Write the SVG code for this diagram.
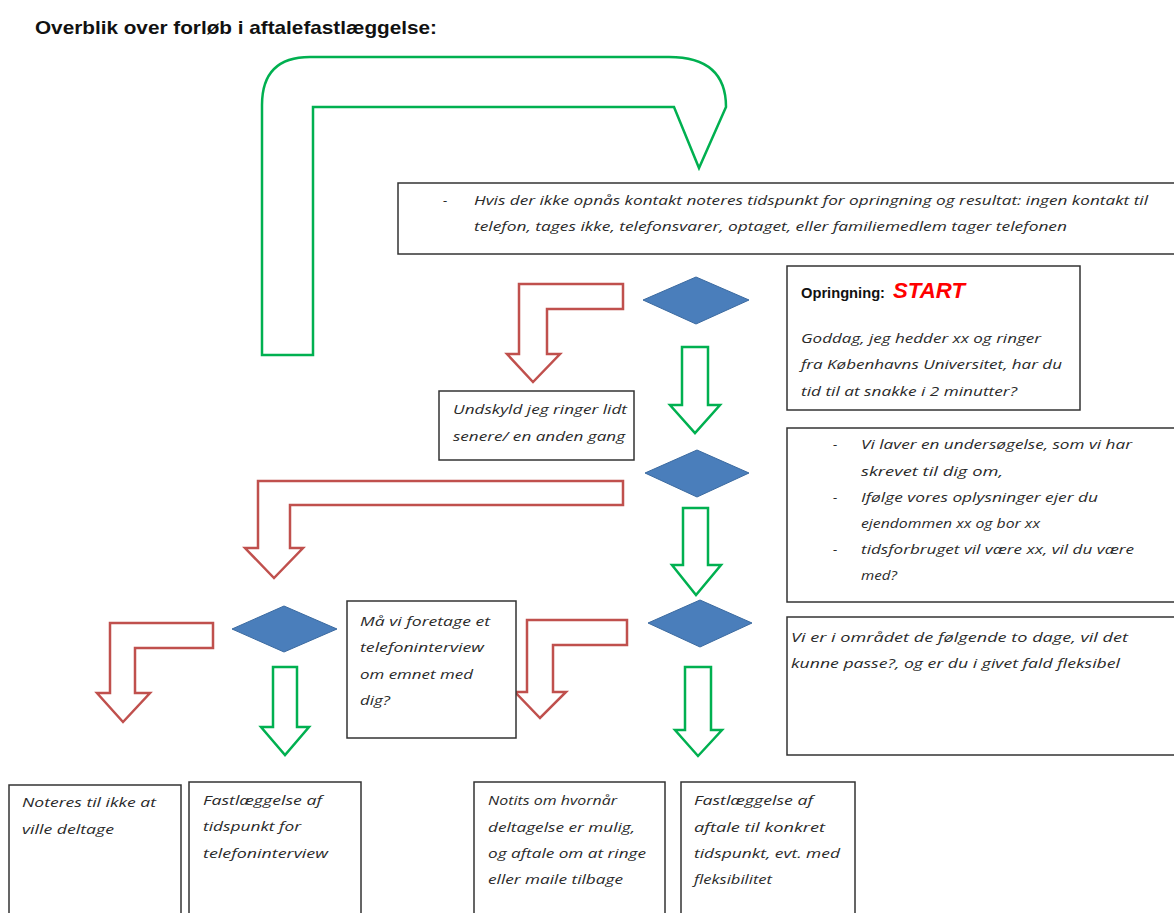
<svg xmlns="http://www.w3.org/2000/svg" width="1174" height="913" viewBox="0 0 1174 913">
<style>
.box{fill:#fff;stroke:#333;stroke-width:1.5}
.t{font-family:"Open Sans","Liberation Sans",sans-serif;font-style:italic;font-size:13.5px;fill:#2a2a2a}
.red{fill:#fff;stroke:#C0504D;stroke-width:2.5;stroke-linejoin:miter}
.grn{fill:#fff;stroke:#00B050;stroke-width:2.5;stroke-linejoin:miter}
.dia{fill:#4A7EBB;stroke:#3B6AA0;stroke-width:1}
</style>
<rect width="1174" height="913" fill="#fff"/>
<text x="35" y="34" font-family="'Liberation Sans',Arial,sans-serif" font-weight="bold" font-size="19" fill="#111" textLength="402" lengthAdjust="spacingAndGlyphs">Overblik over forløb i aftalefastlæggelse:</text>

<g id="connectors">
<path class="grn" d="M262,355 L262,105 Q262,57 310,57 L669,57 Q726,57 726,107 L699,168 L674,107 L313,107 L313,355 Z"/>
<path class="red" d="M623,284 L519,284 L519,354 L507,354 L533,382 L560,354 L547,354 L547,309 L623,309 Z"/>
<path class="grn" d="M682,347 L708,347 L708,405 L720,405 L695,433 L670,405 L682,405 Z"/>
<path class="red" d="M623,481 L258,481 L258,548 L245,548 L274,578 L303,548 L290,548 L290,505 L623,505 Z"/>
<path class="grn" d="M683,508 L708,508 L708,565 L721,565 L696,595 L672,565 L683,565 Z"/>
<path class="red" d="M213,623 L110,623 L110,693 L97,693 L123,722 L150,693 L135,693 L135,648 L213,648 Z"/>
<path class="grn" d="M273,667 L297,667 L297,727 L309,727 L285,755 L261,727 L273,727 Z"/>
<path class="red" d="M627,620 L527,620 L527,692 L515,692 L540,718 L566,692 L553,692 L553,645 L627,645 Z"/>
<path class="grn" d="M685,667 L711,667 L711,730 L722,730 L698,756 L675,730 L685,730 Z"/>
</g>

<g id="d1"><polygon class="dia" points="643,300 696,277 749,300 696,324"/></g>
<g id="d2"><polygon class="dia" points="645,473 697,450 749,473 697,497"/></g>
<g id="d3"><polygon class="dia" points="232,629 284,606 337,629 284,652"/></g>
<g id="d4"><polygon class="dia" points="648,623 700,600 752,623 700,647"/></g>

<g id="nokontakt">
<rect class="box" x="398" y="183" width="780" height="71"/>
<text class="t" x="443" y="205">-</text>
<text class="t" x="474" y="205" textLength="674" lengthAdjust="spacingAndGlyphs">Hvis der ikke opnås kontakt noteres tidspunkt for opringning og resultat: ingen kontakt til</text>
<text class="t" x="474" y="231" textLength="593" lengthAdjust="spacingAndGlyphs">telefon, tages ikke, telefonsvarer, optaget, eller familiemedlem tager telefonen</text>
</g>

<g id="start">
<rect class="box" x="787" y="266" width="293" height="144"/>
<text x="801" y="298" font-family="'Liberation Sans',Arial,sans-serif" font-weight="bold" font-size="14" fill="#111" textLength="84" lengthAdjust="spacingAndGlyphs">Opringning:</text>
<text x="893" y="298" font-family="'Liberation Sans',Arial,sans-serif" font-weight="bold" font-style="italic" font-size="22" fill="#FF0000" textLength="72" lengthAdjust="spacingAndGlyphs">START</text>
<text class="t" x="801" y="343" textLength="240" lengthAdjust="spacingAndGlyphs">Goddag, jeg hedder xx og ringer</text>
<text class="t" x="801" y="369" textLength="261" lengthAdjust="spacingAndGlyphs">fra Københavns Universitet, har du</text>
<text class="t" x="801" y="396" textLength="216" lengthAdjust="spacingAndGlyphs">tid til at snakke i 2 minutter?</text>
</g>

<g id="undskyld">
<rect class="box" x="439" y="391" width="195" height="69"/>
<text class="t" x="453" y="414" textLength="174" lengthAdjust="spacingAndGlyphs">Undskyld jeg ringer lidt</text>
<text class="t" x="453" y="441" textLength="172" lengthAdjust="spacingAndGlyphs">senere/ en anden gang</text>
</g>

<g id="undersoegelse">
<rect class="box" x="787" y="428" width="391" height="174"/>
<text class="t" x="833" y="449">-</text>
<text class="t" x="861" y="449" textLength="271" lengthAdjust="spacingAndGlyphs">Vi laver en undersøgelse, som vi har</text>
<text class="t" x="861" y="476" textLength="142" lengthAdjust="spacingAndGlyphs">skrevet til dig om,</text>
<text class="t" x="833" y="502">-</text>
<text class="t" x="861" y="502" textLength="237" lengthAdjust="spacingAndGlyphs">Ifølge vores oplysninger ejer du</text>
<text class="t" x="861" y="528" textLength="179" lengthAdjust="spacingAndGlyphs">ejendommen xx og bor xx</text>
<text class="t" x="833" y="554">-</text>
<text class="t" x="861" y="554" textLength="273" lengthAdjust="spacingAndGlyphs">tidsforbruget vil være xx, vil du være</text>
<text class="t" x="861" y="580" textLength="36" lengthAdjust="spacingAndGlyphs">med?</text>
</g>

<g id="telefoninterview">
<rect class="box" x="347" y="601" width="169" height="137"/>
<text class="t" x="360" y="626" textLength="130" lengthAdjust="spacingAndGlyphs">Må vi foretage et</text>
<text class="t" x="360" y="652" textLength="124" lengthAdjust="spacingAndGlyphs">telefoninterview</text>
<text class="t" x="360" y="679" textLength="113" lengthAdjust="spacingAndGlyphs">om emnet med</text>
<text class="t" x="360" y="705" textLength="30" lengthAdjust="spacingAndGlyphs">dig?</text>
</g>

<g id="omraadet">
<rect class="box" x="787" y="617" width="391" height="138"/>
<text class="t" x="791" y="642" textLength="337" lengthAdjust="spacingAndGlyphs">Vi er i området de følgende to dage, vil det</text>
<text class="t" x="791" y="668" textLength="329" lengthAdjust="spacingAndGlyphs">kunne passe?, og er du i givet fald fleksibel</text>
</g>

<g id="b1">
<rect class="box" x="9" y="785" width="172" height="132"/>
<text class="t" x="22" y="807" textLength="134" lengthAdjust="spacingAndGlyphs">Noteres til ikke at</text>
<text class="t" x="22" y="834" textLength="92" lengthAdjust="spacingAndGlyphs">ville deltage</text>
</g>
<g id="b2">
<rect class="box" x="189" y="782" width="172" height="135"/>
<text class="t" x="203" y="805" textLength="119" lengthAdjust="spacingAndGlyphs">Fastlæggelse af</text>
<text class="t" x="203" y="831" textLength="98" lengthAdjust="spacingAndGlyphs">tidspunkt for</text>
<text class="t" x="203" y="858" textLength="125" lengthAdjust="spacingAndGlyphs">telefoninterview</text>
</g>
<g id="b3">
<rect class="box" x="474" y="782" width="191" height="135"/>
<text class="t" x="488" y="805" textLength="129" lengthAdjust="spacingAndGlyphs">Notits om hvornår</text>
<text class="t" x="488" y="832" textLength="147" lengthAdjust="spacingAndGlyphs">deltagelse er mulig,</text>
<text class="t" x="488" y="858" textLength="158" lengthAdjust="spacingAndGlyphs">og aftale om at ringe</text>
<text class="t" x="488" y="884" textLength="135" lengthAdjust="spacingAndGlyphs">eller maile tilbage</text>
</g>
<g id="b4">
<rect class="box" x="681" y="782" width="174" height="135"/>
<text class="t" x="694" y="805" textLength="119" lengthAdjust="spacingAndGlyphs">Fastlæggelse af</text>
<text class="t" x="694" y="832" textLength="131" lengthAdjust="spacingAndGlyphs">aftale til konkret</text>
<text class="t" x="694" y="858" textLength="146" lengthAdjust="spacingAndGlyphs">tidspunkt, evt. med</text>
<text class="t" x="694" y="884" textLength="78" lengthAdjust="spacingAndGlyphs">fleksibilitet</text>
</g>
</svg>
